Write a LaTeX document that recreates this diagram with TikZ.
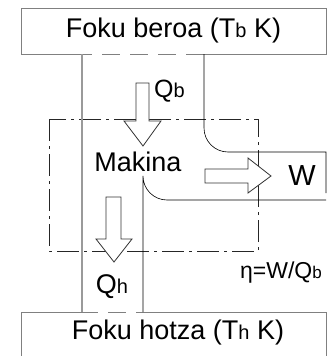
\documentclass[tikz,border=0pt]{standalone}
\usepackage{fontspec}
\setmainfont{Liberation Sans}
\usetikzlibrary{calc}
\definecolor{wallgray}{HTML}{9A9A9A}
\definecolor{boxgray}{HTML}{808080}
\tikzset{reservoir/.style={rectangle,draw=boxgray,line width=.9pt,inner sep=0pt,minimum width=305pt,minimum height=46pt,font=\fontsize{27}{30}\selectfont},opening/.style={boxgray,line width=.9pt,dash pattern=on 18pt off 10pt,dash phase=8pt},wall/.style={wallgray,line width=1.3pt},pipe/.style={black,line width=.6pt},blockarrow/.style={draw=black!80,line width=.8pt,fill=white,line join=miter},system/.style={black!85,line width=.6pt,dash pattern=on 22pt off 5pt on 3pt off 5pt},label/.style={inner sep=0pt,font=\fontsize{27}{30}\selectfont},every picture/.style={line cap=butt}}
\newcommand{\sub}[1]{{\fontsize{20}{22}\selectfont #1}}

\begin{document}
\begin{tikzpicture}[x=1pt,y=-1pt]
\useasboundingbox (0,0) rectangle (334,356);
\clip (0,0) rectangle (334,356);
% reservoirs
\node[reservoir] (hot) at (173.5,31) {Foku beroa (T\sub{b} K)};
\node[reservoir,minimum height=60pt,anchor=north] (cold) at (173.5,312) {};
\node[label] (coldtext) at (178,333) {Foku hotza (T\sub{h} K)};
\coordinate (cl) at (82,54); \coordinate (cr) at (204,54); \coordinate (ml) at (143,312);
\draw[white,line width=1.6pt] (cl)--(cr) (cl|-ml)--(ml);
\draw[opening] (cl)--(cr); \draw[opening,dash phase=2pt] (cl|-ml)--(ml);
% system boundary
\draw[system] (49,119) rectangle (258,251);
% channel
\draw[wall] (cl)--(cl|-ml);
\draw[pipe] (cr)--(204,128) arc[start angle=180,end angle=90,radius=24] --(326,152)--(326,193);
\draw[pipe] (326,200)--(167,200) arc[start angle=90,end angle=180,radius=24] --(ml);
% heat and work arrows
\draw[blockarrow] (136,83)--(149,83)--(149,121)--(161,121)--(143,146)--(124,121)--(136,121)--cycle;
\draw[blockarrow] (106,197)--(121,197)--(121,239)--(132,239)--(114,262)--(96,239)--(106,239)--cycle;
\draw[blockarrow] (205,169)--(248,169)--(248,158)--(271,176)--(248,193)--(248,183)--(205,183)--cycle;
\node[label] (engine) at (138,162) {Makina};
\node[label,font=\fontsize{25}{28}\selectfont,anchor=west] (qb) at (154,91) {Q\sub{b}};
\node[label,font=\fontsize{29}{32}\selectfont] (w) at (302,176) {W};
\node[label] (qh) at (112,287) {Q\sub{h}};
\node[label,font=\fontsize{23}{26}\selectfont] (eff) at (281,273) {η=W/Q{\fontsize{17}{20}\selectfont b}};
\end{tikzpicture}
\end{document}
